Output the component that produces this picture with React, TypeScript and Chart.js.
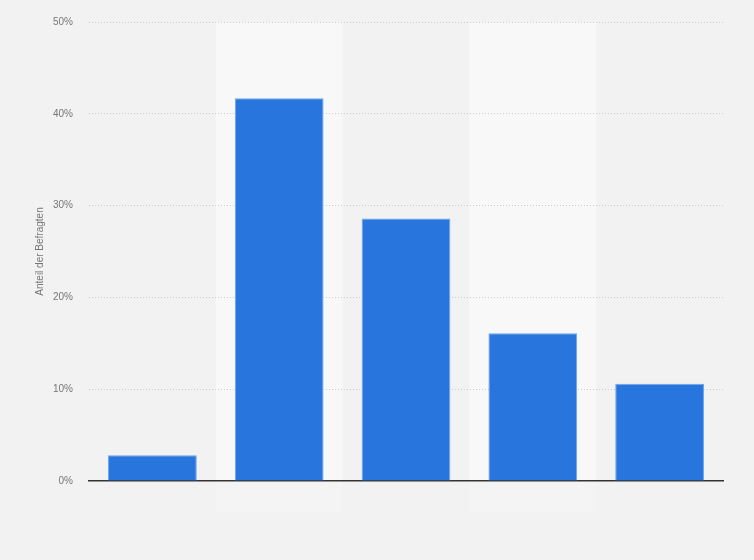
import { useEffect, useRef } from 'react'
import { Chart, registerables } from 'chart.js'
import type { Plugin } from 'chart.js'

Chart.register(...registerables)

const CATEGORIES = ['', '', '', '', '']
const SHARES = [2.8, 41.7, 28.6, 16.1, 10.6]
const Y_TICKS = [0, 10, 20, 30, 40, 50]

const BAR_COLOR = '#2876dd'
const BAR_EDGE = '#6aa6ec'
const BAND_COLOR = '#f8f8f8'
const BAND_FOOT = '#f4f4f4'
const PAGE_BG = '#f2f2f2'

// lighter background behind every second category
const bandPlugin: Plugin<'bar'> = {
  id: 'bands',
  beforeDraw(chart) {
    const { ctx, chartArea, scales } = chart
    const x = scales.x
    const step = x.width / CATEGORIES.length
    ctx.save()
    CATEGORIES.forEach((_, i) => {
      if (i % 2 === 0) return
      const c = x.getPixelForValue(i)
      ctx.fillStyle = BAND_COLOR
      ctx.fillRect(c - step / 2, chartArea.top, step, chartArea.bottom - chartArea.top)
      ctx.fillStyle = BAND_FOOT
      ctx.fillRect(c - step / 2, chartArea.bottom, step, 31)
    })
    ctx.restore()
  },
}

export default function App() {
  const canvasRef = useRef<HTMLCanvasElement>(null)

  useEffect(() => {
    if (!canvasRef.current) return
    const chart = new Chart(canvasRef.current, {
      type: 'bar',
      data: {
        labels: CATEGORIES,
        datasets: [
          {
            data: SHARES,
            backgroundColor: BAR_COLOR,
            borderColor: BAR_EDGE,
            borderWidth: 1,
            barPercentage: 0.7,
            categoryPercentage: 1,
          },
        ],
      },
      options: {
        animation: false,
        responsive: false,
        devicePixelRatio: 1,
        layout: { padding: { left: 30, right: 31, top: 18, bottom: 79 } },
        plugins: {
          legend: { display: false },
          tooltip: { enabled: false },
        },
        scales: {
          x: {
            ticks: { display: false },
            grid: { display: false },
            border: { display: true, color: '#333333', width: 1.5 },
            afterFit: (s) => {
              s.height = 0
            },
          },
          y: {
            min: 0,
            max: 50,
            afterBuildTicks: (s) => {
              s.ticks = Y_TICKS.map((v) => ({ value: v }))
            },
            ticks: {
              padding: 16,
              color: '#777777',
              font: { family: 'Liberation Sans, Arial, sans-serif', size: 10 },
              callback: (v) => `${v}%`,
            },
            grid: {
              drawTicks: false,
              color: (c) => (c.tick && c.tick.value === 0 ? 'rgba(0,0,0,0)' : '#cccccc'),
            },
            border: { display: false, dash: [1, 2] },
            title: {
              display: true,
              text: 'Anteil der Befragten',
              color: '#777777',
              padding: { top: 4, bottom: 0 },
              font: { family: 'Liberation Sans, Arial, sans-serif', size: 10 },
            },
            afterFit: (s) => {
              s.width = 59
            },
          },
        },
      },
      plugins: [bandPlugin],
    })
    return () => chart.destroy()
  }, [])

  return (
    <div style={{ position: 'absolute', left: 0, top: 0, width: 754, height: 560, background: PAGE_BG }}>
      <canvas ref={canvasRef} width={754} height={560} />
    </div>
  )
}
